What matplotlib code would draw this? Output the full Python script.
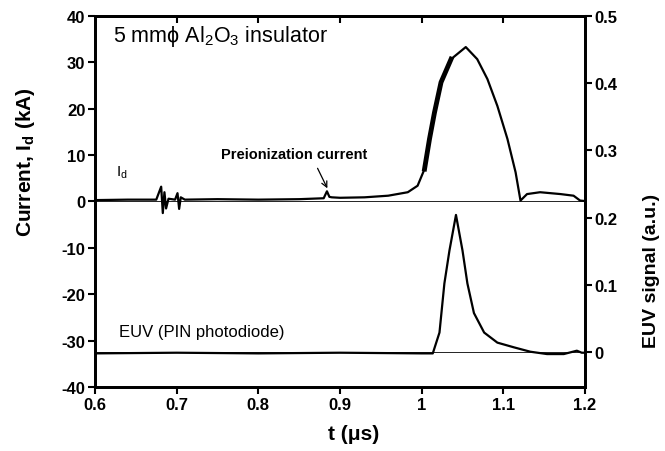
import matplotlib
matplotlib.use("Agg")
import matplotlib.pyplot as plt

plt.rcParams['font.family'] = ['Liberation Sans', 'DejaVu Sans']
plt.rcParams['axes.unicode_minus'] = False
plt.rcParams['mathtext.fontset'] = 'custom'
plt.rcParams['mathtext.rm'] = 'Liberation Sans'
plt.rcParams['mathtext.bf'] = 'Liberation Sans:bold'
plt.rcParams['mathtext.it'] = 'Liberation Sans:italic'

# discharge current I_d (kA) vs time (us)
t_current = [0.600, 0.640, 0.675, 0.681, 0.683, 0.685, 0.687, 0.690, 0.698, 0.701, 0.703, 0.705,
             0.710, 0.750, 0.800, 0.850, 0.880, 0.884, 0.887, 0.890, 0.900, 0.930, 0.959, 0.983,
             0.995, 1.0035, 1.0096, 1.0157, 1.0237, 1.036, 1.054, 1.068, 1.0805, 1.0927, 1.105,
             1.115, 1.121, 1.129, 1.145, 1.170, 1.186, 1.194, 1.200]
current = [0.3, 0.4, 0.4, 3.2, -2.5, 2.0, -1.5, 0.6, 0.4, 1.8, -1.6, 0.9,
           0.4, 0.5, 0.4, 0.5, 0.7, 2.2, 1.0, 0.9, 0.8, 0.9, 1.25, 2.0,
           3.4, 7.0, 13.5, 19.2, 25.7, 30.7, 33.3, 30.7, 26.4, 20.6, 13.5,
           6.3, 0.2, 1.6, 2.0, 1.6, 1.25, 0.2, 0.1]

# EUV signal (a.u.) vs time (us)
t_euv = [0.600, 0.700, 0.800, 0.900, 1.000, 1.0136, 1.0218, 1.0278, 1.034, 1.042, 1.050, 1.056,
         1.064, 1.0765, 1.0927, 1.113, 1.133, 1.1535, 1.174, 1.190, 1.196, 1.200]
euv = [-0.002, -0.001, -0.002, -0.001, -0.002, -0.002, 0.029, 0.102, 0.151, 0.204, 0.151, 0.102,
       0.058, 0.029, 0.014, 0.007, 0.0005, -0.003, -0.003, 0.002, -0.001, -0.001]

fig = plt.figure(figsize=(6.65, 4.52), dpi=100)
ax = fig.add_axes([0.1429, 0.1416, 0.7368, 0.8208])
ax2 = ax.twinx()

ax.axhline(0, color='black', lw=0.6)
ax.plot(t_current, current, color='black', lw=1.6)
# noisy, thick rising edge
ax.plot(t_current[25:30], current[25:30], color='black', lw=3.5)

ax2.axhline(0, color='black', lw=0.6)
ax2.plot(t_euv, euv, color='black', lw=1.6)

ax.set_xlim(0.6, 1.2)
ax.set_ylim(-40, 40)
ax2.set_ylim(-0.052, 0.5)
ax.set_xticks([0.6, 0.7, 0.8, 0.9, 1.0, 1.1, 1.2])
ax.set_xticklabels(['0.6', '0.7', '0.8', '0.9', '1', '1.1', '1.2'])
ax.set_yticks([-40, -30, -20, -10, 0, 10, 20, 30, 40])
ax2.set_yticks([0, 0.1, 0.2, 0.3, 0.4, 0.5])
ax2.set_yticklabels(['0', '0.1', '0.2', '0.3', '0.4', '0.5'])

for a in (ax, ax2):
    for s in a.spines.values():
        s.set_linewidth(2)
ax.tick_params(axis='both', direction='out', length=5, width=1.5, labelsize=12, pad=2)
ax2.tick_params(axis='y', direction='out', length=5, width=1.5, labelsize=12, pad=2)
for lab in ax.get_xticklabels() + ax.get_yticklabels() + ax2.get_yticklabels():
    lab.set_fontweight('bold')

top = ax.secondary_xaxis('top')
top.set_xticks([0.7, 0.8, 0.9, 1.0, 1.1])
top.tick_params(direction='in', length=5, width=1.5, labeltop=False)
top.spines['top'].set_linewidth(2)

ax.set_xlabel('t (μs)', fontsize=15, fontweight='bold')
ax.xaxis.set_label_coords(0.527, -0.100)
ax.set_ylabel(r'Current, I$_\mathbf{d}$ (kA)', fontsize=15, fontweight='bold')
ax.yaxis.set_label_coords(-0.118, 0.609)
ax2.set_ylabel('EUV signal (a.u.)', fontsize=14, fontweight='bold', rotation=90)
ax2.yaxis.set_label_coords(1.118, 0.315)

ax.text(0.622, 35.7, r'5 mmϕ Al$_2$O$_3$ insulator', fontsize=15.5, va='center')
ax.text(0.754, 10.2, 'Preionization current', fontsize=10.5, fontweight='bold', va='center')
ax.annotate('', xy=(0.886, 2.3), xytext=(0.871, 7.7),
            arrowprops=dict(arrowstyle='->', color='black', lw=0.9))
ax.text(0.626, 6.3, r'I$_\mathrm{d}$', fontsize=11, va='center')
ax.text(0.629, -28.1, 'EUV (PIN photodiode)', fontsize=12, va='center')

fig.savefig('out.png', dpi=100)
